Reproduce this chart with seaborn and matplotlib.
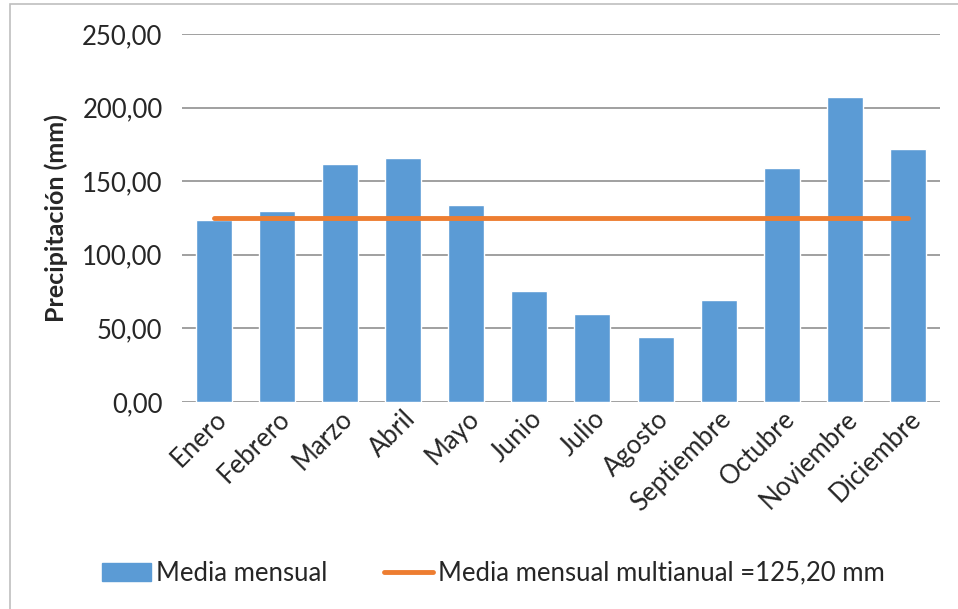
import matplotlib
matplotlib.use('Agg')
import matplotlib.pyplot as plt
import matplotlib.ticker as mticker
from matplotlib.patches import Rectangle
from matplotlib.lines import Line2D
import seaborn as sns

# Datos
meses = ['Enero', 'Febrero', 'Marzo', 'Abril', 'Mayo', 'Junio', 'Julio',
         'Agosto', 'Septiembre', 'Octubre', 'Noviembre', 'Diciembre']
precipitacion = [123.4, 129.8, 161.5, 165.8, 133.8, 75.4, 59.8,
                 44.4, 69.1, 158.7, 207.0, 171.6]
media_multianual = 125.20
yticks = [0, 50, 100, 150, 200, 250]

sns.set_style('white')
plt.rcParams['font.family'] = ['Lato', 'DejaVu Sans']

fig = plt.figure(figsize=(9.58, 6.09), dpi=100)
ax = fig.add_axes([0.19, 0.34, 0.791, 0.604])

# marco del gráfico
fig.patches.append(Rectangle((10 / 958, -0.05), 1.2, 1.05 - 4 / 609,
                             transform=fig.transFigure, fill=False,
                             edgecolor='#bfbfbf', linewidth=1.2))

sns.barplot(x=meses, y=precipitacion, color='#5B9BD5', width=0.57,
            saturation=1, ax=ax, zorder=2)
sns.lineplot(x=meses, y=[media_multianual] * len(meses), color='#ED7D31',
             linewidth=3.5, ax=ax, zorder=3)

ax.set_ylim(0, 250)
ax.set_xlim(-0.5, len(meses) - 0.5)
ax.set_yticks(yticks)
ax.yaxis.set_major_formatter(mticker.FuncFormatter(
    lambda v, p: f'{v:.2f}'.replace('.', ',')))
ax.yaxis.grid(True, color='#a0a0a0', linewidth=1.4, zorder=0)
ax.set_axisbelow(True)
for s in ax.spines.values():
    s.set_visible(False)

ax.tick_params(axis='y', labelsize=18.5, pad=14, length=0)
ax.tick_params(axis='x', labelsize=18.5, length=0, pad=3)
plt.setp(ax.get_xticklabels(), rotation=45, ha='right', rotation_mode='anchor')
ax.set_ylabel('Precipitación (mm)', fontsize=18, fontweight='bold', labelpad=10)

handles = [Rectangle((0, 0), 1, 1, color='#5B9BD5'),
           Line2D([], [], color='#ED7D31', linewidth=3.5)]
fig.legend(handles, ['Media mensual', 'Media mensual multianual =125,20 mm'],
           loc='center', bbox_to_anchor=(0.515, 0.059), ncol=2, frameon=False,
           fontsize=18.5, handlelength=1.9, handletextpad=0.2, columnspacing=2.2)

fig.savefig('out.png', dpi=100)
